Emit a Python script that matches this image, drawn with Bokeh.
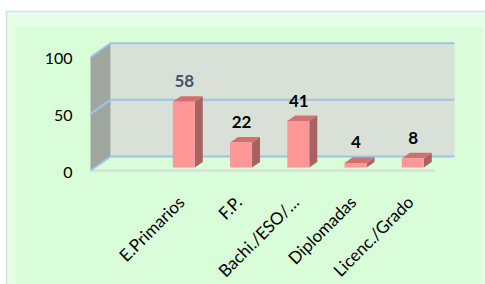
from bokeh.plotting import figure
from bokeh.models import Range1d
from bokeh.core.properties import value
from bokeh.embed import file_html
from bokeh.resources import INLINE

# ---- data ----
categories = ["E.Primarios", "F.P.", "Bachi./ESO/\u2026", "Diplomadas", "Licenc./Grado"]
values = [58, 22, 41, 4, 8]
y_ticks = [0, 50, 100]
y_tick_labels = ["0", "50", "100"]
label_colors = ["#44546a", "black", "black", "black", "black"]

# ---- layout / scale helpers ----
W, H = 485, 284
SX = 57.25   # px per category unit
SY = 1.133   # px per value unit
X0_PAGE, Y0_PAGE = 179, 170   # page px of category 0 / value 0 on front plane
ORG_X, ORG_Y = 0, 0

def dx(px):
    return (px - X0_PAGE) / SX

def dy(py):
    return (Y0_PAGE - py) / SY

x_range = Range1d(dx(ORG_X), dx(ORG_X + W))
y_range = Range1d(dy(ORG_Y + H), dy(ORG_Y))

p = figure(width=W, height=H, x_range=x_range, y_range=y_range,
           output_backend="svg", toolbar_location=None,
           x_axis_type=None, y_axis_type=None, min_border=0)
p.grid.visible = False
p.outline_line_color = None
p.background_fill_color = "white"
p.border_fill_color = "white"

# chart area backgrounds
p.quad(left=dx(6), right=dx(492), top=dy(11), bottom=dy(300),
       fill_color="#e6fde6", line_color="#d5dde6", line_width=1.5)
p.quad(left=dx(15), right=dx(482), top=dy(26), bottom=dy(300),
       fill_color="#d9fdd9", line_color=None)

# 3D geometry
DX = 20 / SX
DY = 14 / SY
XL, XR = dx(90), dx(434)
ymax = max(y_ticks)

# back wall
p.quad(left=XL + DX, right=XR + DX, bottom=DY, top=ymax + DY,
       fill_color="#d8e0d8", line_color=None)
# side wall
p.patch([XL, XL + DX, XL + DX, XL], [0, DY, ymax + DY, ymax],
        fill_color="#9ea69e", line_color=None)
# floor front edge
p.line([XL, XR], [0, 0], line_color="#d4dcd4", line_width=2)
# gridlines
for t in y_ticks:
    p.line([XL, XL + DX, XR + DX], [t, t + DY, t + DY],
           line_color="#9dc3e6", line_width=2)

# bars
f1, f2 = 0.214, 0.614
hw = 11 / SX
for i, v in enumerate(values):
    lx, rx = i - hw + f1 * DX, i + hw + f1 * DX
    lx2, rx2 = i - hw + f2 * DX, i + hw + f2 * DX
    b1, b2 = f1 * DY, f2 * DY
    # side
    p.patch([rx, rx2, rx2, rx], [b1, b2, v + b2, v + b1],
            fill_color="#a86262", line_color=None)
    # top
    p.patch([lx, rx, rx2, lx2], [v + b1, v + b1, v + b2, v + b2],
            fill_color="#d27070", line_color=None)
    # front
    p.quad(left=lx, right=rx, bottom=b1, top=v + b1,
           fill_color="#ff9797", line_color=None)

# data labels
lab_x = [i + f1 * DX + 0.5 / SX for i in range(len(values))]
lab_y = [v + f1 * DY + 20.5 / SY for v in values]
p.text(x=lab_x, y=lab_y, text=[str(v) for v in values],
       text_color=label_colors, text_font=value("Lato"),
       text_font_style="bold", text_font_size="17px",
       text_align="center", text_baseline="middle")

# y tick labels
p.text(x=[dx(72)] * len(y_ticks), y=[t - 1.5 / SY for t in y_ticks],
       text=y_tick_labels, text_color="black", text_font=value("Lato"),
       text_font_size="16px", text_align="right", text_baseline="middle")

# category labels (rotated)
cat_x = [i + f1 * DX - 10 / SX for i in range(len(categories))]
cat_y = [dy(191)] * len(categories)
p.text(x=cat_x, y=cat_y, text=categories, angle=0.785398,
       text_color="black", text_font=value("Lato"), text_font_size="17px",
       text_align="right", text_baseline="top")

open("out.html", "w").write(file_html(p, INLINE))
